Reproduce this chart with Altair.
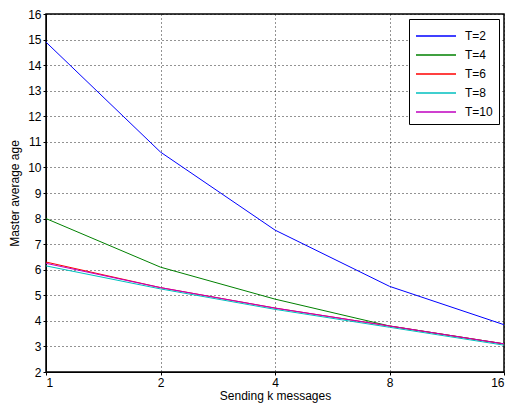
import altair as alt
import pandas as pd

k_values = [1, 2, 4, 8, 16]
series_names = ["T=2", "T=4", "T=6", "T=8", "T=10"]
t2 = [14.9, 10.6, 7.55, 5.35, 3.85]
t4 = [8.0, 6.1, 4.85, 3.8, 3.1]
t6 = [6.3, 5.3, 4.5, 3.8, 3.1]
t8 = [6.15, 5.25, 4.45, 3.75, 3.05]
t10 = [6.25, 5.3, 4.5, 3.8, 3.1]
colors = ["#0000ff", "#008000", "#ff0000", "#00bfbf", "#bf00bf"]

rows = []
for name, vals in zip(series_names, [t2, t4, t6, t8, t10]):
    for k, v in zip(k_values, vals):
        rows.append({"k": k, "age": v, "series": name})
df = pd.DataFrame(rows)

font = "Liberation Sans"

axis_common = dict(grid=True, gridDash=[1, 3], gridColor="#000000", gridOpacity=0.85,
                   tickColor="#000000", domainColor="#000000", labelColor="#000000",
                   titleColor="#000000", labelFont=font, titleFont=font,
                   labelFontSize=12, titleFontSize=12, titleFontWeight="normal",
                   tickSize=3, labelPadding=2)

chart = alt.Chart(df).mark_line(strokeWidth=1).encode(
    x=alt.X("k:Q", scale=alt.Scale(type="log", base=2, domain=[1, 16], nice=False),
            axis=alt.Axis(values=k_values, title="Sending k messages", format="d",
                          titlePadding=2, **axis_common)),
    y=alt.Y("age:Q", scale=alt.Scale(domain=[2, 16], nice=False),
            axis=alt.Axis(values=list(range(2, 17)), title="Master average age",
                          titlePadding=6, **axis_common)),
    color=alt.Color("series:N", sort=series_names,
                    scale=alt.Scale(domain=series_names, range=colors),
                    legend=alt.Legend(title=None, orient="top-right",
                                      symbolType="M-1,0L3,0",
                                      symbolStrokeWidth=1.5, symbolSize=400,
                                      labelOffset=28,
                                      strokeColor="#000000", fillColor="#ffffff",
                                      padding=6, offset=5, labelFont=font, labelFontSize=12,
                                      labelColor="#000000", rowPadding=2)),
).properties(
    width=458, height=358,
    padding={"left": 0, "top": 0, "right": 2, "bottom": 5},
).configure_view(stroke="#000000", strokeWidth=1.5)

chart.save("out.html", embed_options={"renderer": "svg", "actions": False})
